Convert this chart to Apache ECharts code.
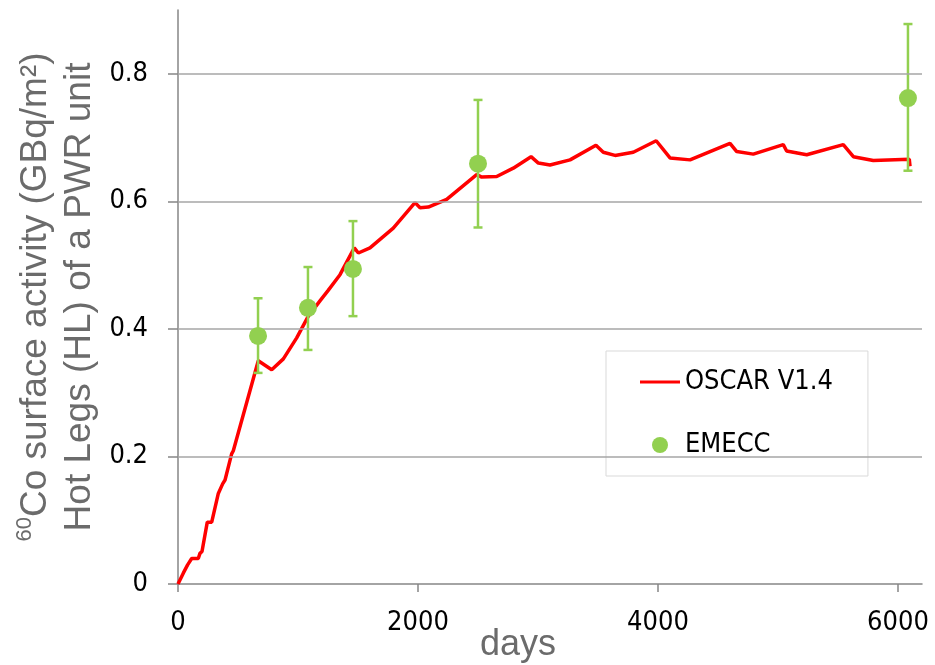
<!DOCTYPE html>
<html>
<head>
<meta charset="utf-8">
<script src="https://cdn.jsdelivr.net/npm/echarts@6/dist/echarts.min.js"></script>
<style>
    html, body {margin: 0; padding: 0; background: #fff;}
    #chart {width: 935px; height: 665px;}
</style>
</head>
<body>
<div id="chart"></div>
<script>
//OSCAR V1.4 计算曲线
var oscarDays = [0, 44, 80, 114, 169, 183, 200, 244, 281, 336, 372, 392, 447, 461, 669, 781, 878, 989, 1086, 1183, 1250, 1350, 1469, 1503, 1600, 1794, 1975, 2017, 2086, 2239, 2489, 2531, 2656, 2794, 2942, 3003, 3100, 3267, 3483, 3544, 3642, 3794, 3985, 4100, 4267, 4600, 4656, 4794, 5044, 5072, 5239, 5544, 5628, 5794, 6094, 6100];
var oscarValues = [0, 0.017, 0.03, 0.040, 0.040, 0.048, 0.051, 0.097, 0.097, 0.142, 0.157, 0.163, 0.204, 0.209, 0.350, 0.336, 0.353, 0.386, 0.420, 0.444, 0.460, 0.485, 0.527, 0.519, 0.527, 0.558, 0.598, 0.590, 0.591, 0.603, 0.642, 0.638, 0.639, 0.652, 0.670, 0.660, 0.657, 0.665, 0.688, 0.677, 0.672, 0.677, 0.695, 0.668, 0.665, 0.691, 0.678, 0.674, 0.689, 0.679, 0.673, 0.689, 0.670, 0.664, 0.666, 0.655];
//EMECC 测量点及误差
var emeccDays = [667, 1083, 1458, 2500, 6083];
var emeccValues = [0.389, 0.433, 0.494, 0.659, 0.762];
var emeccLow = [0.331, 0.367, 0.420, 0.559, 0.648];
var emeccHigh = [0.448, 0.497, 0.569, 0.759, 0.878];
//坐标轴刻度
var xTicks = [0, 2000, 4000, 6000];
var yTicks = [0, 0.2, 0.4, 0.6, 0.8];

var narrow = '"DejaVu Sans Condensed", "Liberation Sans", sans-serif';
var arial = '"Liberation Sans", Arial, sans-serif';
var green = '#92d050';
var red = '#ff0000';

var chart = echarts.init(document.getElementById('chart'), null, {renderer: 'canvas'});

var oscarData = oscarDays.map(function (d, i) {
    return [d, oscarValues[i]];
});
var emeccData = emeccDays.map(function (d, i) {
    return [d, emeccValues[i]];
});
var errorData = emeccDays.map(function (d, i) {
    return [d, emeccLow[i], emeccHigh[i]];
});

var option = {
    animation: false,
    grid: {left: 178, right: 13, top: 10, bottom: 81, containLabel: false, outerBoundsMode: 'none'},
    legend: {
        orient: 'vertical',
        left: 606,
        top: 351,
        padding: [16, 35, 16, 34],
        itemGap: 33,
        itemWidth: 40,
        itemHeight: 16,
        borderColor: '#d9d9d9',
        borderWidth: 1,
        borderRadius: 0,
        backgroundColor: '#fff',
        textStyle: {fontFamily: narrow, fontSize: 27, color: '#000', lineHeight: 30},
        data: [
            {name: 'OSCAR V1.4', icon: 'path://M0,0L40,0L40,3L0,3Z', itemStyle: {color: red}},
            {name: 'EMECC', icon: 'circle'}
        ]
    },
    xAxis: {
        type: 'value',
        min: 0,
        max: 6200,
        interval: 2000,
        name: 'days',
        nameLocation: 'middle',
        nameGap: 43,
        nameMoveOverlap: false,
        nameTextStyle: {fontFamily: arial, fontSize: 36, color: '#6b6b6b', padding: [0, 64, 0, 0]},
        axisLine: {lineStyle: {color: '#868686', width: 1.5}},
        axisTick: {show: true, length: 8, lineStyle: {color: '#868686', width: 1.5}, customValues: xTicks},
        axisLabel: {margin: 25, fontFamily: narrow, fontSize: 27, color: '#000', customValues: xTicks,
            formatter: function (v) {
                return String(v);
            }},
        splitLine: {show: false}
    },
    yAxis: {
        type: 'value',
        min: 0,
        max: 0.9,
        interval: 0.2,
        name: '{sup|60}{t|Co surface activity (GBq/m²)}\n{t|Hot Legs (HL) of a PWR unit}',
        nameLocation: 'middle',
        nameRotate: 90,
        nameGap: 76,
        nameMoveOverlap: false,
        nameTextStyle: {
            color: '#6b6b6b',
            lineHeight: 44,
            rich: {
                t: {fontFamily: arial, fontSize: 37, color: '#6b6b6b', lineHeight: 44},
                sup: {fontFamily: arial, fontSize: 22, color: '#6b6b6b', verticalAlign: 'top', lineHeight: 44, padding: [0, 0, 14, 0]}
            }
        },
        axisLine: {show: true, lineStyle: {color: '#868686', width: 1.5}},
        axisTick: {show: true, length: 10, lineStyle: {color: '#868686', width: 1.5}, customValues: yTicks},
        axisLabel: {margin: 30, fontFamily: narrow, fontSize: 27, color: '#000', customValues: yTicks,
            formatter: function (v) {
                return v === 0 ? '0' : v.toFixed(1);
            }},
        splitLine: {show: false}
    },
    series: [
        {
            //水平网格线
            name: 'grid',
            type: 'line',
            data: [],
            silent: true,
            markLine: {
                silent: true,
                symbol: ['none', 'none'],
                label: {show: false},
                lineStyle: {color: '#a6a6a6', width: 1.5, type: 'solid'},
                data: yTicks.filter(function (v) {
                    return v > 0;
                }).map(function (v) {
                    return {yAxis: v};
                })
            }
        },
        {
            name: 'OSCAR V1.4',
            type: 'line',
            data: oscarData,
            showSymbol: false,
            symbol: 'none',
            lineStyle: {color: red, width: 3.5},
            itemStyle: {color: red},
            z: 3
        },
        {
            //误差线
            name: 'EMECC error',
            type: 'custom',
            data: errorData,
            z: 4,
            renderItem: function (params, api) {
                var x = api.value(0);
                var lo = api.coord([x, api.value(1)]);
                var hi = api.coord([x, api.value(2)]);
                var cap = 4.5;
                var style = {stroke: green, lineWidth: 2.5};
                return {
                    type: 'group',
                    children: [
                        {type: 'line', shape: {x1: lo[0], y1: lo[1], x2: hi[0], y2: hi[1]}, style: style},
                        {type: 'line', shape: {x1: lo[0] - cap, y1: lo[1], x2: lo[0] + cap, y2: lo[1]}, style: style},
                        {type: 'line', shape: {x1: hi[0] - cap, y1: hi[1], x2: hi[0] + cap, y2: hi[1]}, style: style}
                    ]
                };
            }
        },
        {
            name: 'EMECC',
            type: 'scatter',
            data: emeccData,
            symbol: 'circle',
            symbolSize: 18,
            itemStyle: {color: green, opacity: 1},
            z: 5
        }
    ]
};
chart.setOption(option);
</script>
</body>
</html>
